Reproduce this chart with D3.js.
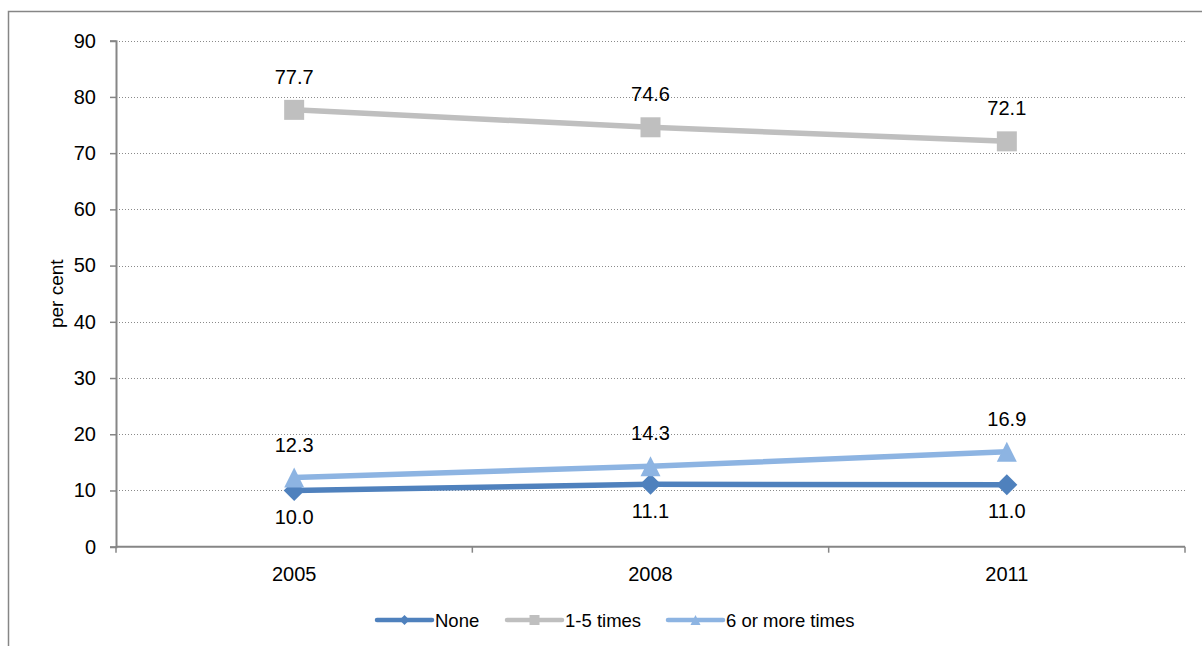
<!DOCTYPE html>
<html><head><meta charset="utf-8">
<script src="https://cdn.jsdelivr.net/npm/d3@7"></script>
<style>body{margin:0;background:#fff}svg{display:block;font-family:Arial,"Liberation Sans",sans-serif}</style>
</head><body><svg id="c" width="1202" height="646"></svg>
<script>
const years = ["2005","2008","2011"];
const noneVals = [10.0, 11.1, 11.0];
const oneFiveVals = [77.7, 74.6, 72.1];
const sixPlusVals = [12.3, 14.3, 16.9];
const yTicks = [0,10,20,30,40,50,60,70,80,90];
const seriesNames = ["None","1-5 times","6 or more times"];

const series = [
  {name: seriesNames[0], values: noneVals, color: "#4F81BD", marker: "diamond", labelPos: "below"},
  {name: seriesNames[1], values: oneFiveVals, color: "#BFBFBF", marker: "square", labelPos: "above"},
  {name: seriesNames[2], values: sixPlusVals, color: "#8DB4E2", marker: "triangle", labelPos: "above"}
];

const FONT = "Arial,'Liberation Sans',sans-serif";
const svg = d3.select("#c");
const L = 116, R = 1185, T = 40.7, B = 546.7;

// outer border
svg.append("rect").attr("x",8.5).attr("y",11.5).attr("width",1300).attr("height",700)
  .attr("fill","none").attr("stroke","#868686").attr("stroke-width",1.5);

const x = d3.scaleBand().domain(years).range([L,R]).padding(0);
const y = d3.scaleLinear().domain([0,90]).range([B,T]);

// gridlines
svg.append("g").selectAll("line").data(yTicks.filter(d=>d>0)).join("line")
  .attr("x1",L).attr("x2",R).attr("y1",d=>Math.round(y(d))+0.5).attr("y2",d=>Math.round(y(d))+0.5)
  .attr("stroke","#8a8a8a").attr("stroke-width",1).attr("stroke-dasharray","1,2");

// y axis
const yAx = svg.append("g").attr("transform",`translate(${L},0)`)
  .call(d3.axisLeft(y).tickValues(yTicks).tickSize(6).tickPadding(14).tickFormat(d3.format("d")));
yAx.select(".domain").attr("stroke","#868686").attr("stroke-width",2);
yAx.selectAll(".tick line").attr("stroke","#868686").attr("stroke-width",1.5);
yAx.selectAll("text").attr("font-size",20).attr("fill","#000").attr("font-family",FONT);

// x axis
const xAx = svg.append("g").attr("transform",`translate(0,${B})`)
  .call(d3.axisBottom(x).tickSize(0).tickPadding(0));
xAx.select(".domain").attr("stroke","#868686").attr("stroke-width",2).attr("d",`M${L},0H${R}`);
xAx.selectAll("text").attr("font-size",20).attr("fill","#000").attr("font-family",FONT)
  .attr("dy",null).attr("y",34);
const bounds = years.map(d=>x(d)).concat([R]);
svg.append("g").selectAll("line").data(bounds).join("line")
  .attr("x1",d=>d).attr("x2",d=>d).attr("y1",B).attr("y2",B+6)
  .attr("stroke","#868686").attr("stroke-width",1.5);

// y title
svg.append("text").attr("transform",`translate(63,${(T+B)/2}) rotate(-90)`)
  .attr("text-anchor","middle").attr("font-size",19).text("per cent");

const cx = d => x(d) + x.bandwidth()/2;
const line = d3.line().x((d,i)=>cx(years[i])).y(d=>y(d));

function markerPath(type, s){
  if(type==="diamond") return `M0,${-s}L${s},0L0,${s}L${-s},0Z`;
  if(type==="square") return `M${-s},${-s}H${s}V${s}H${-s}Z`;
  return `M0,${-s}L${s},${s}L${-s},${s}Z`;
}
const msize = {diamond:10.5, square:10, triangle:10};

series.forEach(s=>{
  svg.append("path").datum(s.values).attr("d",line).attr("fill","none")
    .attr("stroke",s.color).attr("stroke-width",5.5).attr("stroke-linejoin","round");
  svg.append("g").selectAll("path").data(s.values).join("path")
    .attr("transform",(d,i)=>`translate(${cx(years[i])},${y(d)})`)
    .attr("d",markerPath(s.marker,msize[s.marker])).attr("fill",s.color);
  svg.append("g").selectAll("text").data(s.values).join("text")
    .attr("x",(d,i)=>cx(years[i]))
    .attr("y",d=> s.labelPos==="above" ? y(d)-26 : y(d)+33.5)
    .attr("text-anchor","middle").attr("font-size",20).attr("fill","#000")
    .text(d=>d3.format(".1f")(d));
});

// legend
const legX = [377, 507, 668];
const legY = 620;
series.forEach((s,i)=>{
  const g = svg.append("g").attr("transform",`translate(${legX[i]},${legY})`);
  g.append("line").attr("x1",0).attr("x2",55).attr("y1",0).attr("y2",0)
    .attr("stroke",s.color).attr("stroke-width",4.5).attr("stroke-linecap","round");
  g.append("path").attr("transform","translate(27.5,0)").attr("d",markerPath(s.marker,5)).attr("fill",s.color);
  g.append("text").attr("x",58).attr("y",6.5).attr("font-size",18.5).attr("fill","#000").text(s.name);
});
</script></body></html>
